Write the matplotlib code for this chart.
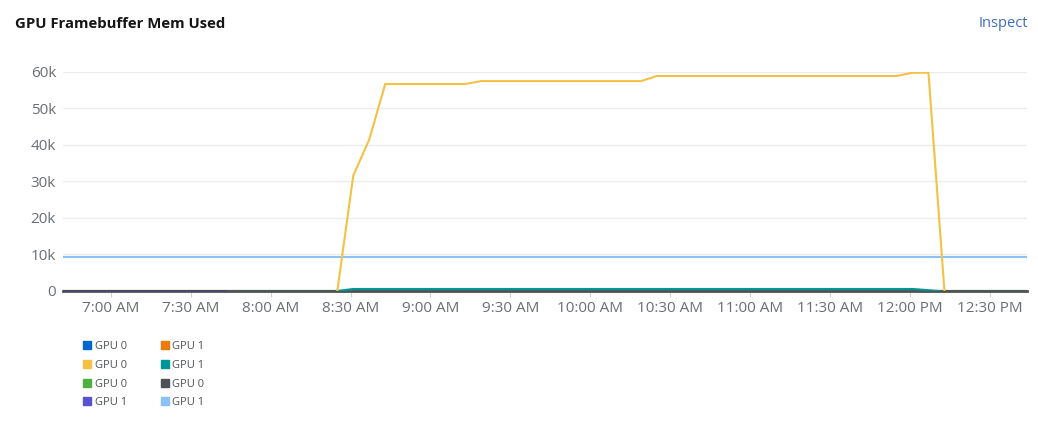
import pandas as pd
import matplotlib.pyplot as plt
import matplotlib.dates as mdates
from matplotlib.lines import Line2D

plt.rcParams['font.family'] = ['Open Sans', 'DejaVu Sans']

day = "2023-01-01 "

# series data (times, values)
yellow_t = ["08:25", "08:31", "08:37", "08:43", "09:13", "09:19", "10:19", "10:25",
            "11:55", "12:01", "12:07", "12:13"]
yellow_v = [0, 31600, 41500, 56700, 56700, 57500, 57500, 58900, 58900, 59800, 59800, 0]

teal_t = ["08:25", "08:31", "12:01", "12:11"]
teal_v = [0, 550, 550, 0]

lightblue_t = ["06:42", "12:44"]
lightblue_v = [9450, 9450]

zero_t = ["06:42", "12:44"]
zero_v = [0, 0]

purple_t = ["06:42", "07:43"]
purple_v = [0, 0]

legend_labels = ["GPU 0", "GPU 0", "GPU 0", "GPU 1", "GPU 1", "GPU 1", "GPU 0", "GPU 1"]
legend_colors = ["#0066cc", "#f4c145", "#4cb140", "#5752d1",
                 "#ec7a08", "#009596", "#4f5255", "#8bc1f7"]

def ts(lst):
    return pd.to_datetime([day + t for t in lst])

fig = plt.figure(figsize=(10.38, 4.21), dpi=100)
ax = fig.add_axes([0.0607, 0.3088, 0.9287, 0.5202])

# hidden zero series
ax.plot(ts(zero_t), zero_v, color="#0066cc", lw=1.5)
ax.plot(ts(zero_t), zero_v, color="#ec7a08", lw=1.5)
ax.plot(ts(zero_t), zero_v, color="#4cb140", lw=1.5)
ax.plot(ts(zero_t), zero_v, color="#4f5255", lw=2)
ax.plot(ts(purple_t), purple_v, color="#3f3f73", lw=2)
ax.plot(ts(teal_t), teal_v, color="#009596", lw=1.5)
ax.plot(ts(lightblue_t), lightblue_v, color="#8bc1f7", lw=1.5)
ax.plot(ts(yellow_t), yellow_v, color="#f4c145", lw=1.5)

ax.set_xlim(pd.Timestamp(day + "06:42"), pd.Timestamp(day + "12:44"))
ax.set_ylim(0, 60000)
ax.set_yticks([0, 10000, 20000, 30000, 40000, 50000, 60000])
ax.set_yticklabels(["0", "10k", "20k", "30k", "40k", "50k", "60k"])
ax.set_xticks(pd.date_range(day + "07:00", day + "12:30", freq="30min"))
ax.xaxis.set_major_formatter(mdates.DateFormatter("%-I:%M %p"))

ax.grid(axis="y", color="#ececec", lw=1)
ax.set_axisbelow(True)
for s in ["top", "right", "left"]:
    ax.spines[s].set_visible(False)
ax.spines["bottom"].set_color("#4f5255")
ax.spines["bottom"].set_linewidth(2)
ax.spines["bottom"].set_zorder(1)
ax.tick_params(axis="y", length=0, pad=5, labelsize=11, labelcolor="#6a6e73")
ax.tick_params(axis="x", length=4, color="#d2d2d2", pad=3, labelsize=11, labelcolor="#6a6e73")

fig.text(0.0145, 0.943, "GPU Framebuffer Mem Used", fontsize=10.7, fontweight="bold",
         color="#151515", va="center")
fig.text(0.9905, 0.943, "Inspect", fontsize=10.5, color="#3d6cbd", va="center", ha="right")

handles = [Line2D([], [], marker="s", ls="", color=c, markersize=6) for c in legend_colors]
fig.legend(handles, legend_labels, loc="upper left", bbox_to_anchor=(0.0805, 0.19),
           ncol=2, frameon=False, fontsize=8, labelcolor="#4f5255",
           handlelength=0.7, handletextpad=0.3, labelspacing=0.7, columnspacing=3.1,
           borderaxespad=0, borderpad=0)

fig.savefig("out.png", dpi=100)
